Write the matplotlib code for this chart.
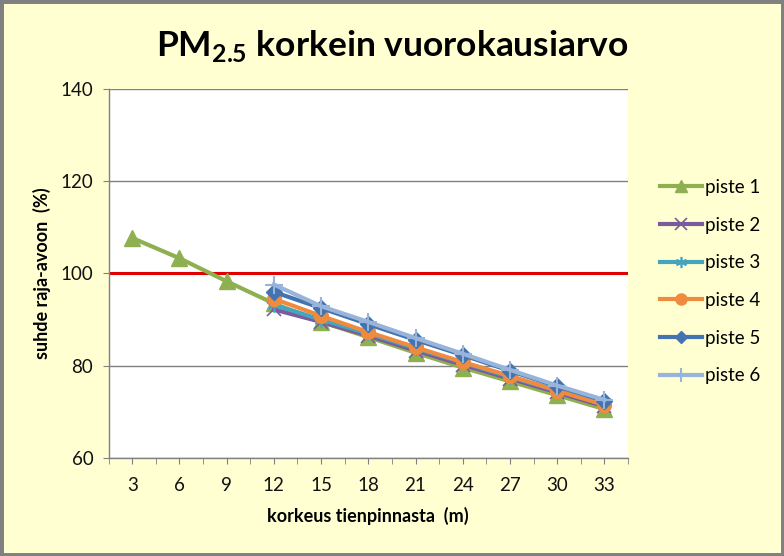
import numpy as np
import matplotlib.pyplot as plt
from matplotlib.patches import Rectangle

plt.rcParams['font.family'] = ['Lato', 'DejaVu Sans']

# korkeus tienpinnasta (m)
heights = [3, 6, 9, 12, 15, 18, 21, 24, 27, 30, 33]

# suhde raja-arvoon (%), pisteet 2-6 alkavat 12 m korkeudelta
piste1 = [107.7, 103.3, 98.3, 93.5, 89.5, 86.2, 82.8, 79.6, 76.6, 73.6, 70.6]
piste2 = [None, None, None, 92.2, 89.5, 86.5, 83.3, 80.2, 77.2, 74.2, 71.2]
piste3 = [None, None, None, 93.2, 90.0, 87.0, 83.8, 80.7, 77.6, 74.6, 71.6]
piste4 = [None, None, None, 94.5, 90.8, 87.3, 84.0, 80.8, 77.8, 74.6, 71.5]
piste5 = [None, None, None, 96.0, 92.5, 89.0, 85.6, 82.3, 78.9, 75.5, 72.4]
piste6 = [None, None, None, 97.6, 92.9, 89.5, 86.0, 82.6, 79.1, 75.7, 72.6]

raja_arvo = 100

series = [
    ('piste 1', piste1, '#8FB050', '^', 11, 1),
    ('piste 2', piste2, '#7A5C9E', 'x', 10, 1.2),
    ('piste 3', piste3, '#45A5BF', (6, 2, 0), 10, 1.2),
    ('piste 4', piste4, '#EE8B3F', 'o', 10, 1),
    ('piste 5', piste5, '#4374B0', 'D', 8, 1),
    ('piste 6', piste6, '#98B4DA', '+', 13, 1.5),
]

bg = '#FFFFD2'
fig = plt.figure(figsize=(7.84, 5.56), dpi=100, facecolor=bg)
ax = fig.add_axes([0.1385, 0.1763, 0.6625, 0.6637])
ax.set_facecolor('white')

for label, vals, color, marker, ms, mew in series:
    y = np.array([np.nan if v is None else v for v in vals], dtype=float)
    ax.plot(heights, y, color=color, lw=3, marker=marker, markersize=ms,
            markeredgewidth=mew, markeredgecolor=color,
            markerfacecolor=color, label=label, zorder=3)

ax.axhline(raja_arvo, color='#E00000', lw=2.2, zorder=2)

ax.set_xlim(1.5, 34.5)
ax.set_ylim(60, 140)
ax.set_xticks(heights)
ax.set_xticks(np.arange(1.5, 35, 3), minor=True)
ax.set_yticks([60, 80, 100, 120, 140])
ax.yaxis.grid(True, color='#808080', lw=1)
ax.set_axisbelow(True)

for side in ['top', 'right']:
    ax.spines[side].set_visible(False)
for side in ['left', 'bottom']:
    ax.spines[side].set_color('#808080')
    ax.spines[side].set_linewidth(1)

ax.tick_params(axis='both', which='both', direction='out', color='#808080',
               length=4, labelsize=13.5, labelcolor='#111111')
ax.tick_params(axis='x', which='major', pad=10)
ax.tick_params(axis='y', pad=7)

ax.set_xlabel('korkeus tienpinnasta  (m)', fontsize=13, fontweight='bold', labelpad=9)
ax.set_ylabel('suhde raja-avoon  (%)', fontsize=13, fontweight='bold', labelpad=7)

fig.text(0.5, 0.918, r'PM$_{\mathregular{2.5}}$ korkein vuorokausiarvo',
         ha='center', va='center', fontsize=25.5, fontweight='bold')

leg = ax.legend(loc='center left', bbox_to_anchor=(1.03, 0.478), frameon=False,
                fontsize=13.5, handlelength=2.2, labelspacing=1.1, handletextpad=0.2,
                markerscale=0.8)

fig.patches.append(Rectangle((0, 0), 1, 1, transform=fig.transFigure,
                             fill=False, edgecolor='#808080', lw=5))

fig.savefig('out.png', dpi=100, facecolor=bg)
